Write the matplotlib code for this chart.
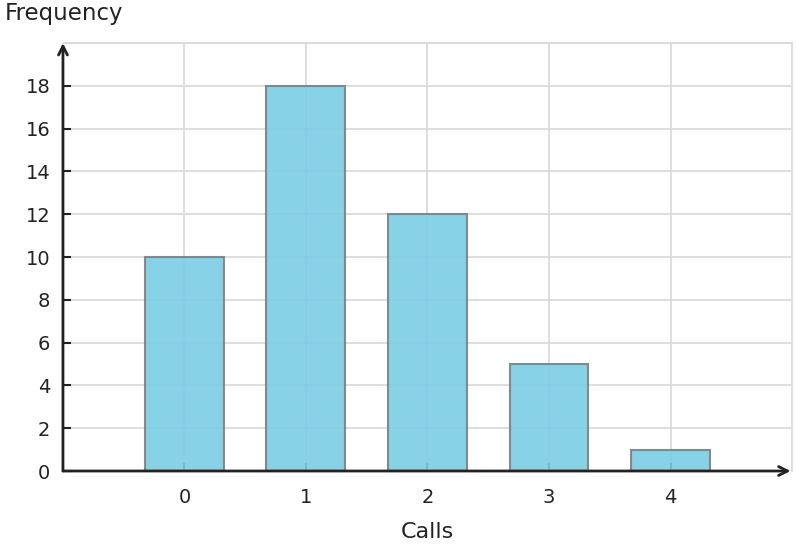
import numpy as np
import matplotlib.pyplot as plt

calls = [0, 1, 2, 3, 4]
frequency = [10, 18, 12, 5, 1]
y_ticks = list(range(0, 20, 2))

fig = plt.figure(figsize=(7.96, 5.48), dpi=100)
ax = fig.add_axes([0.0791, 0.1405, 0.9159, 0.781])
ax.set_axisbelow(True)

ax.bar(calls, frequency, width=0.65, color='#7BCDE6', alpha=0.9,
       edgecolor='#7f7f7f', linewidth=1.5, zorder=2)

ax.set_xlim(-1, 5)
ax.set_ylim(0, 20)
ax.set_xticks(calls)
ax.set_yticks(y_ticks)
ax.set_yticks(np.arange(0, 21, 2), minor=True)
ax.tick_params(axis='both', direction='in', length=6, width=1.5,
               color='#222222', labelsize=14, labelcolor='#222222')
ax.tick_params(axis='x', pad=12)
ax.tick_params(axis='y', pad=9)
ax.tick_params(axis='y', which='minor', length=0)
ax.grid(True, which='both', color='#d8d8d8', linewidth=1.2)

for side in ['left', 'bottom']:
    ax.spines[side].set_visible(False)
for side in ['top', 'right']:
    ax.spines[side].set_color('#d8d8d8')
    ax.spines[side].set_linewidth(1.2)

arrow = dict(arrowstyle='->', color='#222222', lw=2, mutation_scale=16,
             shrinkA=0, shrinkB=0)
ax.annotate('', xy=(0, 1.0), xytext=(0, 0), xycoords='axes fraction',
            arrowprops=arrow, annotation_clip=False, zorder=5)
ax.annotate('', xy=(0.998, 0), xytext=(0, 0), xycoords='axes fraction',
            arrowprops=arrow, annotation_clip=False, zorder=5)

ax.set_xlabel('Calls', fontsize=16, color='#222222', labelpad=11)
fig.text(0.006, 0.976, 'Frequency', fontsize=16.5, color='#222222', va='center', ha='left')

fig.savefig('out.png', dpi=100)
